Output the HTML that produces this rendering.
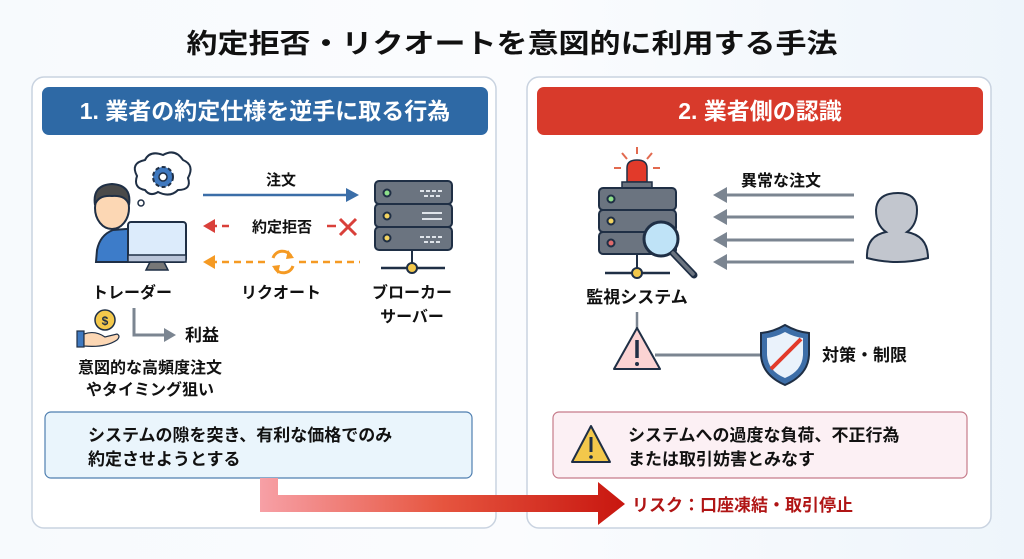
<!DOCTYPE html>
<html><head><meta charset="utf-8"><style>
html,body{margin:0;padding:0;background:#fff;}
svg{display:block;}
text{font-family:"Liberation Sans","Noto Sans CJK JP",sans-serif;font-weight:bold;}
</style></head><body>
<svg width="1024" height="559" viewBox="0 0 1024 559" xmlns="http://www.w3.org/2000/svg">
<defs>
<linearGradient id="bg" x1="0" y1="0" x2="1" y2="0"><stop offset="0" stop-color="#f7fafd"/><stop offset="0.5" stop-color="#fbfcfe"/><stop offset="1" stop-color="#eef5fb"/></linearGradient>
<linearGradient id="ra" x1="0" y1="0" x2="1" y2="0"><stop offset="0" stop-color="#f7a0a6"/><stop offset="0.5" stop-color="#e6553f"/><stop offset="1" stop-color="#c8160f"/></linearGradient>
</defs>
<rect width="1024" height="559" fill="url(#bg)"/>
<text x="512" y="53" text-anchor="middle" font-size="27" fill="#111" textLength="651" lengthAdjust="spacingAndGlyphs">約定拒否・リクオートを意図的に利用する手法</text>

<!-- panels -->
<rect x="32" y="77" width="464" height="451" rx="12" fill="#fff" stroke="#c9d3e0" stroke-width="1.5"/>
<rect x="527" y="77" width="464" height="451" rx="12" fill="#fff" stroke="#c9d3e0" stroke-width="1.5"/>
<rect x="42" y="87" width="446" height="48" rx="7" fill="#2e69a5"/>
<rect x="537" y="87" width="446" height="48" rx="7" fill="#d83a2b"/>
<text x="265" y="119" text-anchor="middle" font-size="23" fill="#fff">1. 業者の約定仕様を逆手に取る行為</text>
<text x="760" y="119" text-anchor="middle" font-size="23" fill="#fff">2. 業者側の認識</text>

<!-- trader -->
<path d="M113 230 Q100 235 97 250 L96 262 L160 262 L160 232 Q150 228 140 228 Z" fill="#3d7cc9" stroke="#1f2f45" stroke-width="2"/>
<ellipse cx="112" cy="208" rx="17" ry="21" fill="#fcd7b4" stroke="#1f2f45" stroke-width="2"/>
<path d="M95 205 Q92 185 112 184 Q132 185 129 205 Q126 195 112 196 Q98 195 95 205 Z" fill="#4a4a4a" stroke="#1f2f45" stroke-width="2"/>
<rect x="128" y="222" width="58" height="40" rx="3" fill="#dcebfb" stroke="#1f2f45" stroke-width="2"/>
<rect x="128" y="255" width="58" height="7" fill="#b9c4d8" stroke="#1f2f45" stroke-width="1.5"/>
<path d="M150 262 L146 270 L168 270 L164 262 Z" fill="#777" stroke="#1f2f45" stroke-width="1.5"/>
<!-- thought -->
<path d="M145 190 Q133 188 137 176 Q130 163 145 160 Q150 150 163 155 Q175 148 183 160 Q195 165 188 178 Q192 190 178 190 Q170 198 158 192 Q150 197 145 190 Z" fill="#fff" stroke="#1f2f45" stroke-width="2"/>
<circle cx="141" cy="203" r="3" fill="#fff" stroke="#1f2f45" stroke-width="1.5"/>
<circle cx="163" cy="177" r="10" fill="#3f79c0" stroke="#1f2f45" stroke-width="2" stroke-dasharray="4 2.5"/>
<circle cx="163" cy="177" r="4" fill="#fff" stroke="#1f2f45" stroke-width="1.5"/>

<!-- arrows left -->
<text x="281" y="185" text-anchor="middle" font-size="15" fill="#111">注文</text>
<line x1="203" y1="195" x2="350" y2="195" stroke="#3b6ea8" stroke-width="2.5"/>
<path d="M359 195 L346 188 L346 202 Z" fill="#3b6ea8"/>
<text x="282" y="232" text-anchor="middle" font-size="15" fill="#111">約定拒否</text>
<line x1="210" y1="226" x2="232" y2="226" stroke="#d9403a" stroke-width="2.5" stroke-dasharray="7 5"/>
<path d="M203 226 L215 219 L215 233 Z" fill="#d9403a"/>
<line x1="327" y1="226" x2="336" y2="226" stroke="#d9403a" stroke-width="2.5"/>
<path d="M340 219 L356 235 M356 219 L340 235" stroke="#d9403a" stroke-width="3"/>
<line x1="210" y1="262" x2="267" y2="262" stroke="#f59a23" stroke-width="2.5" stroke-dasharray="7 5"/>
<line x1="299" y1="262" x2="360" y2="262" stroke="#f59a23" stroke-width="2.5" stroke-dasharray="7 5"/>
<path d="M203 262 L215 255 L215 269 Z" fill="#f59a23"/>
<path d="M273 258 A10 10 0 0 1 291 256 M293 266 A10 10 0 0 1 275 268" fill="none" stroke="#f59a23" stroke-width="3"/>
<path d="M288 250 L294 258 L286 259 Z M278 274 L272 266 L280 265 Z" fill="#f59a23"/>
<text x="281" y="298" text-anchor="middle" font-size="16" fill="#111">リクオート</text>

<!-- server -->
<g stroke="#1f2f45" stroke-width="2">
<rect x="375" y="181" width="77" height="23" rx="4" fill="#6b7480"/>
<rect x="375" y="204" width="77" height="23" rx="4" fill="#6b7480"/>
<rect x="375" y="227" width="77" height="23" rx="4" fill="#6b7480"/>
<circle cx="387" cy="193" r="3.5" fill="#8ee08a"/>
<circle cx="387" cy="216" r="3.5" fill="#f3d460"/>
<circle cx="387" cy="238" r="3.5" fill="#f3d460"/>
<line x1="412" y1="250" x2="412" y2="267"/>
<line x1="381" y1="268" x2="445" y2="268" stroke-width="2.5"/>
<circle cx="412" cy="268" r="5" fill="#f3c84b"/>
</g>
<g stroke="#dfe4ea" stroke-width="2" stroke-dasharray="4 2"><line x1="420" y1="191" x2="442" y2="191"/><line x1="424" y1="196" x2="442" y2="196"/><line x1="420" y1="237" x2="442" y2="237"/><line x1="424" y1="242" x2="442" y2="242"/></g>
<g stroke="#dfe4ea" stroke-width="2"><line x1="422" y1="213" x2="442" y2="213"/><line x1="422" y1="219" x2="442" y2="219"/></g>
<text x="412" y="298" text-anchor="middle" font-size="16" fill="#111">ブローカー</text>
<text x="412" y="322" text-anchor="middle" font-size="16" fill="#111">サーバー</text>
<text x="132" y="298" text-anchor="middle" font-size="16" fill="#111">トレーダー</text>

<!-- profit -->
<circle cx="105" cy="320" r="10" fill="#f3c84b" stroke="#1f2f45" stroke-width="1.5"/>
<text x="105" y="325" text-anchor="middle" font-size="12" fill="#1f2f45">$</text>
<rect x="77" y="331" width="7" height="16" fill="#3f79c0" stroke="#1f2f45" stroke-width="1.2"/>
<path d="M84 334 Q95 330 105 337 L117 334 Q121 336 117 340 Q105 348 84 346 Z" fill="#fcd7b4" stroke="#1f2f45" stroke-width="1.2"/>
<path d="M134 308 L134 335 L166 335" fill="none" stroke="#7b8591" stroke-width="3"/>
<path d="M176 335 L164 328 L164 342 Z" fill="#7b8591"/>
<text x="185" y="341" font-size="17" fill="#111">利益</text>
<text x="150" y="373" text-anchor="middle" font-size="16" fill="#111">意図的な高頻度注文</text>
<text x="150" y="395" text-anchor="middle" font-size="16" fill="#111">やタイミング狙い</text>

<!-- bottom boxes -->
<rect x="45" y="412" width="427" height="66" rx="6" fill="#eaf5fc" stroke="#4f7fb0" stroke-width="1.2"/>
<text x="88" y="441" font-size="17" fill="#111">システムの隙を突き、有利な価格でのみ</text>
<text x="88" y="465" font-size="17" fill="#111">約定させようとする</text>
<rect x="553" y="412" width="414" height="66" rx="6" fill="#fcf0f4" stroke="#c67b8a" stroke-width="1.2"/>
<path d="M591 426 L610 462 L572 462 Z" fill="#f3c84b" stroke="#1f2f45" stroke-width="2" stroke-linejoin="round"/>
<line x1="591" y1="437" x2="591" y2="452" stroke="#1f2f45" stroke-width="3"/>
<circle cx="591" cy="457" r="1.8" fill="#1f2f45"/>
<text x="628" y="441" font-size="17" fill="#111">システムへの過度な負荷、不正行為</text>
<text x="628" y="465" font-size="17" fill="#111">または取引妨害とみなす</text>

<!-- big arrow -->
<path d="M260 478 L278 478 L278 495 L598 495 L598 482 L625 504 L598 525 L598 512 L260 512 Z" fill="url(#ra)"/>
<text x="632" y="511" font-size="17" fill="#b01515">リスク：口座凍結・取引停止</text>

<!-- right panel graphics -->
<g stroke="#e26a4f" stroke-width="2"><line x1="637" y1="147" x2="637" y2="154"/><line x1="622" y1="153" x2="627" y2="159"/><line x1="652" y1="153" x2="647" y2="159"/><line x1="614" y1="168" x2="621" y2="168"/><line x1="653" y1="168" x2="660" y2="168"/></g>
<path d="M627 182 L627 168 Q627 160 637 160 Q647 160 647 168 L647 182 Z" fill="#e23a2a" stroke="#1f2f45" stroke-width="1.5"/>
<rect x="622" y="182" width="30" height="6" fill="#6b7480" stroke="#1f2f45" stroke-width="1.5"/>
<g stroke="#1f2f45" stroke-width="2">
<rect x="599" y="188" width="77" height="22" rx="4" fill="#6b7480"/>
<rect x="599" y="210" width="77" height="22" rx="4" fill="#6b7480"/>
<rect x="599" y="232" width="77" height="22" rx="4" fill="#6b7480"/>
<circle cx="611" cy="199" r="3.5" fill="#8ee08a"/>
<circle cx="611" cy="221" r="3.5" fill="#f3d460"/>
<circle cx="611" cy="243" r="3.5" fill="#e06a6a"/>
<line x1="637" y1="254" x2="637" y2="272"/>
<line x1="605" y1="273" x2="670" y2="273" stroke-width="2.5"/>
<circle cx="637" cy="273" r="5" fill="#f3c84b"/>
<line x1="673" y1="253" x2="694" y2="275" stroke-width="7" stroke-linecap="round"/>
<circle cx="661" cy="239" r="17" fill="#bfe3f7" stroke-width="3"/>
</g>
<line x1="673" y1="253" x2="693" y2="274" stroke="#6b7480" stroke-width="3.5" stroke-linecap="round"/>
<text x="741" y="186" font-size="16" fill="#111">異常な注文</text>
<g stroke="#7b8591" stroke-width="3">
<line x1="722" y1="195" x2="854" y2="195"/><line x1="722" y1="217" x2="854" y2="217"/><line x1="722" y1="240" x2="854" y2="240"/><line x1="722" y1="262" x2="854" y2="262"/>
</g>
<g fill="#7b8591"><path d="M713 195 L727 187 L727 203 Z"/><path d="M713 217 L727 209 L727 225 Z"/><path d="M713 240 L727 232 L727 248 Z"/><path d="M713 262 L727 254 L727 270 Z"/></g>
<path d="M867 258 Q866 236 886 232 Q876 225 876 210 Q877 193 898 193 Q917 193 917 210 Q917 225 907 232 Q928 236 928 258 Q897 266 867 258 Z" fill="#c2c6ce" stroke="#1f2f45" stroke-width="2"/>
<text x="637" y="303" text-anchor="middle" font-size="17" fill="#111">監視システム</text>
<line x1="637" y1="312" x2="637" y2="328" stroke="#7b8591" stroke-width="2.5"/>
<line x1="655" y1="355" x2="762" y2="355" stroke="#7b8591" stroke-width="3"/>
<path d="M637 328 L660 369 L614 369 Z" fill="#fbd3d3" stroke="#1f2f45" stroke-width="2" stroke-linejoin="round"/>
<line x1="637" y1="340" x2="637" y2="358" stroke="#1f2f45" stroke-width="3.5"/>
<circle cx="637" cy="364" r="2" fill="#1f2f45"/>
<path d="M785 325 Q773 332 761 333 L761 355 Q762 375 785 385 Q808 375 809 355 L809 333 Q797 332 785 325 Z" fill="#3d6ea8" stroke="#1f2f45" stroke-width="2"/>
<path d="M785 332 Q776 337 767 338 L767 355 Q768 371 785 378 Q802 371 803 355 L803 338 Q794 337 785 332 Z" fill="#eaf2fb"/>
<line x1="771" y1="369" x2="801" y2="339" stroke="#e23a2a" stroke-width="4"/>
<text x="822" y="361" font-size="17" fill="#111">対策・制限</text>
</svg>
</body></html>
